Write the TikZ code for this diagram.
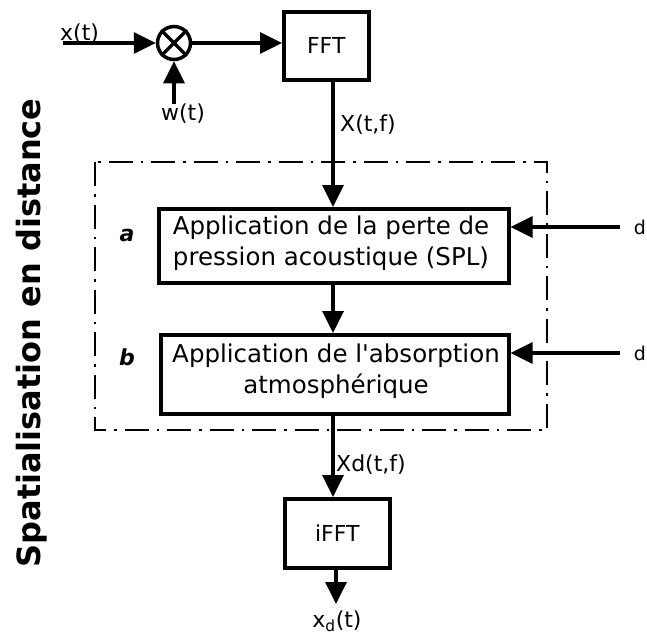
\documentclass[tikz,border=0pt]{standalone}
\usepackage{fontspec}
\setmainfont{DejaVu Sans}
\usetikzlibrary{arrows.meta}
\begin{document}
\begin{tikzpicture}[x=1pt,y=-1pt,
  blk/.style={draw,line width=3.5pt,inner sep=0pt,anchor=north west},
  arr/.style={line width=3.5pt,-{Triangle[length=22pt,width=21pt]}},
  lbl/.style={font=\fontsize{22}{24}\selectfont,inner sep=0pt},
  btxt/.style={font=\fontsize{24.5}{31}\selectfont,align=center,inner sep=0pt}]
\useasboundingbox (0,0) rectangle (647,635);
% dash-dot frame
\draw[line width=2.4pt,dash pattern=on 24pt off 8pt on 2.5pt off 8pt] (95,162) rectangle (547,430);
% nodes
\node[draw,circle,line width=3.5pt,minimum size=33pt,inner sep=0pt] (mix) at (174,43) {};
\draw[line width=3.5pt] (mix.north west) -- (mix.south east) (mix.north east) -- (mix.south west);
\node[blk,minimum width=85pt,minimum height=68pt] (fft) at (282,10) {};
\node[lbl] at (fft.center) {FFT};
\node[blk,minimum width=350pt,minimum height=74pt] (ba) at (157,207) {};
\node[btxt] at (331,243) {Application de la perte de\\pression acoustique (SPL)};
\node[blk,minimum width=348pt,minimum height=79pt] (bb) at (159,333) {};
\node[btxt] at (336,371) {Application de l\textquotesingle absorption\\atmosphérique};
\node[blk,minimum width=105pt,minimum height=69pt] (ifft) at (283,497) {};
\node[lbl] at (ifft.center) {iFFT};
% coordinates
\coordinate (xin) at (63,43);
\coordinate (win) at (174,104);
\coordinate (d1) at (620,227);
\coordinate (d2) at (620,353);
\coordinate (xout) at (336,604);
% connectors
\draw[arr] (xin) -- (mix.west);
\draw[arr] (win) -- (mix.south);
\draw[arr] (mix.east) -- (fft.west |- mix.east);
\draw[arr] (333,78) -- (333,207);
\draw[arr] (333,281) -- (333,333);
\draw[arr] (333,412) -- (333,497);
\draw[arr] (336,566) -- (xout);
\draw[arr] (d1) -- (ba.east |- d1);
\draw[arr] (d2) -- (bb.east |- d2);
% labels
\node[lbl,anchor=base west] at (60,40) {x(t)};
\node[lbl,anchor=base] at (183,120) {w(t)};
\node[lbl,anchor=base west] at (340,131) {X(t,f)};
\node[lbl,anchor=base west] at (336,471) {Xd(t,f)};
\node[lbl,anchor=base] at (337,627) {x\textsubscript{d}(t)};
\node[font=\fontsize{19}{20}\selectfont,anchor=base] at (640,234) {d};
\node[font=\fontsize{19}{20}\selectfont,anchor=base] at (640,360) {d};
\node[font=\fontsize{22}{24}\selectfont\bfseries\itshape,anchor=base] at (127,241) {a};
\node[font=\fontsize{22}{24}\selectfont\bfseries\itshape,anchor=base] at (127,365) {b};
\node[font=\fontsize{32}{34}\selectfont\bfseries,rotate=90,anchor=base] at (40,333) {Spatialisation en distance};
\end{tikzpicture}
\end{document}
